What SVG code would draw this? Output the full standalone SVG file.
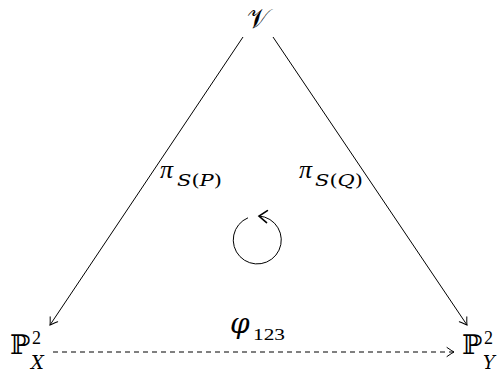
<svg xmlns="http://www.w3.org/2000/svg" width="498" height="377" viewBox="0 0 498 377">
<style>
.ln{stroke:#000;stroke-width:1;fill:none}
.t{font-family:"DejaVu Serif","Liberation Serif",serif;fill:#000}
.g{font-family:"Liberation Serif","DejaVu Serif",serif;font-style:italic;fill:#000}
.i{font-family:"DejaVu Serif","Liberation Serif",serif;font-style:italic;fill:#000}
.r{font-family:"Liberation Serif","DejaVu Serif",serif;fill:#000}
</style>
<defs>
<marker id="to" markerUnits="userSpaceOnUse" markerWidth="20" markerHeight="20" refX="0" refY="0" viewBox="-10 -10 20 20" orient="auto" overflow="visible">
<path d="M -7 -4.5 Q -2 -1 0 0 Q -2 1 -7 4.5" stroke="#000" stroke-width="1" fill="none" stroke-linecap="round"/>
</marker>
<marker id="to2" markerUnits="userSpaceOnUse" markerWidth="20" markerHeight="20" refX="0" refY="0" viewBox="-10 -10 20 20" orient="auto" overflow="visible">
<path d="M -8 -6 Q -2 -1.5 0 0 Q -2 1.5 -8 6" stroke="#000" stroke-width="1.6" fill="none" stroke-linecap="round"/>
</marker>
</defs>
<g id="connectors">
<line class="ln" x1="243" y1="37" x2="50" y2="325" marker-end="url(#to)"/>
<line class="ln" x1="273" y1="37" x2="467" y2="325" marker-end="url(#to)"/>
<line class="ln" x1="53" y1="352" x2="454" y2="352" stroke-dasharray="5,4" marker-end="url(#to)"/>
</g>
<g id="V"><text class="t" x="258" y="28" font-size="27" text-anchor="middle">𝒱</text></g>
<g id="PX">
<text class="t" x="10" y="354" font-size="27">ℙ</text>
<text class="r" x="32" y="344" font-size="18">2</text>
<text class="i" x="31" y="369" font-size="18">X</text>
</g>
<g id="PY">
<text class="t" x="462" y="354" font-size="27">ℙ</text>
<text class="r" x="484" y="344" font-size="18">2</text>
<text class="i" x="483" y="369" font-size="18">Y</text>
</g>
<g id="label-phi">
<text class="i" x="230" y="333" font-size="28">φ</text>
<text class="r" x="253" y="340" font-size="17" textLength="32" lengthAdjust="spacingAndGlyphs">123</text>
</g>
<g id="label-piP">
<text class="g" x="160" y="178" font-size="26">π</text>
<text class="i" x="177" y="186" font-size="17" textLength="45" lengthAdjust="spacingAndGlyphs">S<tspan font-style="normal">(</tspan>P<tspan font-style="normal">)</tspan></text>
</g>
<g id="label-piQ">
<text class="g" x="299" y="178" font-size="26">π</text>
<text class="i" x="315" y="186" font-size="17" textLength="48" lengthAdjust="spacingAndGlyphs">S<tspan font-style="normal">(</tspan>Q<tspan font-style="normal">)</tspan></text>
</g>
<g id="cycle">
<path class="ln" stroke-width="1.6" d="M 248 217.8 A 24 24 0 1 0 259 216" marker-end="url(#to2)"/>
</g>
</svg>
